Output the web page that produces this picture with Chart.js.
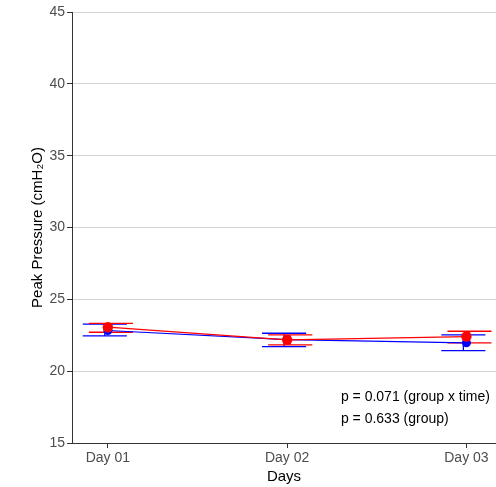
<!DOCTYPE html>
<html>
<head>
<meta charset="utf-8">
<script src="https://cdn.jsdelivr.net/npm/chart.js@4/dist/chart.umd.min.js"></script>
<style>
    html, body { margin: 0; padding: 0; background: #ffffff; }
    #chart { display: block; }
</style>
</head>
<body>
<canvas id="chart" width="496" height="487"></canvas>
<script>
// Data
const dayLabels = ['Day 01', 'Day 02', 'Day 03'];
const dayPositions = [1, 2, 3];

const redMeans = [23.06, 22.18, 22.41];
const redUpper = [23.32, 22.53, 22.78];
const redLower = [22.71, 21.83, 21.97];

const blueMeans = [22.83, 22.20, 21.97];
const blueUpper = [23.27, 22.64, 22.53];
const blueLower = [22.46, 21.71, 21.43];

const pValueNotes = ['p = 0.071 (group x time)', 'p = 0.633 (group)'];

const FONT = "'Liberation Sans', Arial, sans-serif";
const RED = '#ff0000';
const BLUE = '#0000ff';

function toPoints(values) {
    return values.map((v, i) => ({ x: dayPositions[i], y: v }));
}

// Error bars, dodged a little to each side of the day
const errorBarPlugin = {
    id: 'errorBars',
    beforeDatasetsDraw(chart) {
        const ctx = chart.ctx;
        const xs = chart.scales.x;
        const ys = chart.scales.y;
        const groups = [
            { upper: blueUpper, lower: blueLower, color: BLUE, dodge: -0.017 },
            { upper: redUpper, lower: redLower, color: RED, dodge: 0.017 }
        ];
        const capHalf = 0.123;
        ctx.save();
        ctx.lineWidth = 1.3;
        groups.forEach(g => {
            ctx.strokeStyle = g.color;
            dayPositions.forEach((d, i) => {
                const cx = xs.getPixelForValue(d + g.dodge);
                const x0 = xs.getPixelForValue(d + g.dodge - capHalf);
                const x1 = xs.getPixelForValue(d + g.dodge + capHalf);
                const yTop = ys.getPixelForValue(g.upper[i]);
                const yBot = ys.getPixelForValue(g.lower[i]);
                ctx.beginPath();
                ctx.moveTo(cx, yTop);
                ctx.lineTo(cx, yBot);
                ctx.moveTo(x0, yTop);
                ctx.lineTo(x1, yTop);
                ctx.moveTo(x0, yBot);
                ctx.lineTo(x1, yBot);
                ctx.stroke();
            });
        });
        ctx.restore();
    }
};

// p-value text in the lower right corner
const notePlugin = {
    id: 'notes',
    afterDraw(chart) {
        const ctx = chart.ctx;
        const xs = chart.scales.x;
        const ys = chart.scales.y;
        const noteY = [18.2, 16.65];
        ctx.save();
        ctx.font = '14px ' + FONT;
        ctx.fillStyle = '#000000';
        ctx.textAlign = 'left';
        ctx.textBaseline = 'middle';
        pValueNotes.forEach((t, i) => {
            ctx.fillText(t, xs.getPixelForValue(2.3), ys.getPixelForValue(noteY[i]));
        });
        ctx.restore();
    }
};

const ctx = document.getElementById('chart').getContext('2d');

new Chart(ctx, {
    type: 'line',
    data: {
        datasets: [
            {
                label: 'red',
                data: toPoints(redMeans),
                borderColor: RED,
                backgroundColor: RED,
                borderWidth: 1.2,
                pointRadius: 5.2,
                pointBorderWidth: 0,
                tension: 0,
                clip: false
            },
            {
                label: 'blue',
                data: toPoints(blueMeans),
                borderColor: BLUE,
                backgroundColor: BLUE,
                borderWidth: 1.2,
                pointRadius: 4.5,
                pointBorderWidth: 0,
                tension: 0,
                clip: false
            }
        ]
    },
    options: {
        responsive: false,
        animation: false,
        layout: { autoPadding: false, padding: { top: 12, right: 0, left: 0, bottom: 0 } },
        plugins: {
            legend: { display: false },
            tooltip: { enabled: false }
        },
        scales: {
            x: {
                type: 'linear',
                min: 0.8,
                max: 3.165,
                afterBuildTicks: (scale) => {
                    scale.ticks = dayPositions.map(v => ({ value: v }));
                },
                afterFit: (scale) => {
                    scale.height = 44;
                    scale.paddingLeft = 0;
                    scale.paddingRight = 0;
                },
                ticks: {
                    callback: (v) => dayLabels[dayPositions.indexOf(v)],
                    color: '#4d4d4d',
                    font: { family: FONT, size: 14 },
                    padding: 2,
                    maxRotation: 0
                },
                grid: {
                    drawOnChartArea: false,
                    drawTicks: true,
                    tickLength: 5,
                    tickColor: '#333333'
                },
                border: { display: true, color: '#333333', width: 1 },
                title: {
                    display: true,
                    text: 'Days',
                    color: '#000000',
                    font: { family: FONT, size: 15 },
                    padding: { top: 0, bottom: 1 }
                }
            },
            y: {
                min: 15,
                max: 45,
                afterFit: (scale) => {
                    scale.width = 72;
                    scale.paddingTop = 0;
                    scale.paddingBottom = 0;
                },
                ticks: {
                    stepSize: 5,
                    color: '#4d4d4d',
                    font: { family: FONT, size: 14 },
                    padding: 2
                },
                grid: {
                    color: '#d6d6d6',
                    lineWidth: 1,
                    tickLength: 5,
                    tickColor: '#333333'
                },
                border: { display: true, color: '#333333', width: 1 },
                title: {
                    display: true,
                    text: 'Peak Pressure (cmH\u2082O)',
                    color: '#000000',
                    font: { family: FONT, size: 15 },
                    padding: { top: 29, bottom: 0 }
                }
            }
        }
    },
    plugins: [errorBarPlugin, notePlugin]
});
</script>
</body>
</html>
